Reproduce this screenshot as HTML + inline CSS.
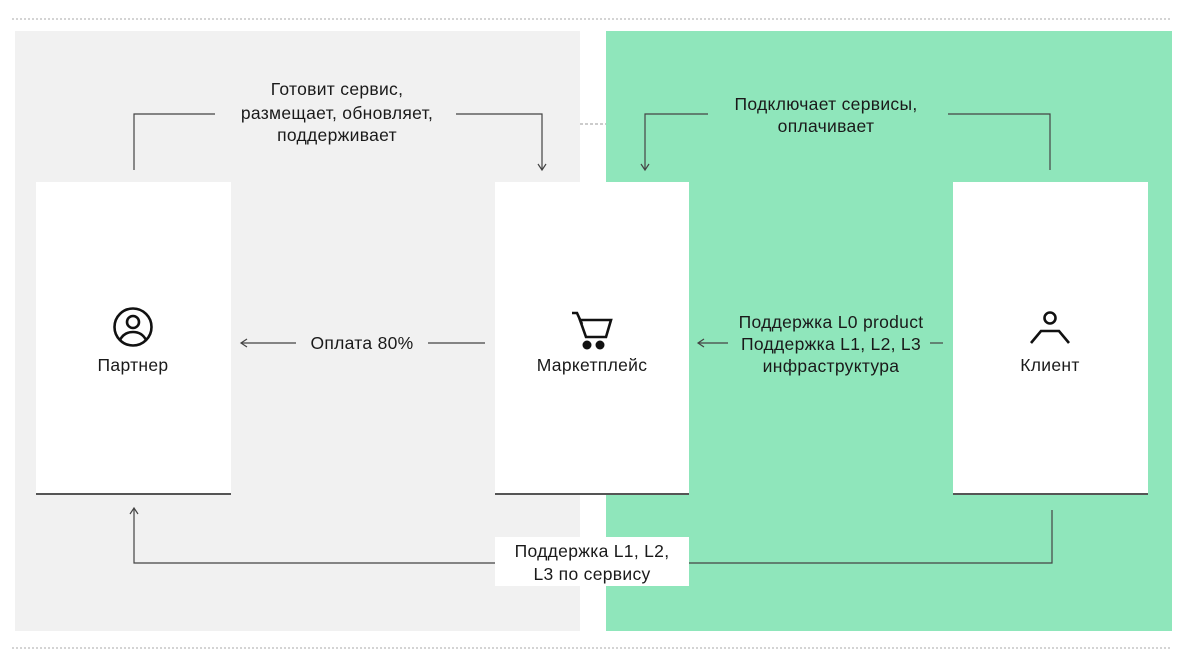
<!DOCTYPE html>
<html><head><meta charset="utf-8"><style>
html,body{margin:0;padding:0;background:#fff;width:1184px;height:666px;overflow:hidden}
svg text{font-family:"Liberation Sans","DejaVu Sans",sans-serif;font-size:17.5px;fill:#1a1a1a;letter-spacing:0.3px}
</style></head><body>
<svg width="1184" height="666" xmlns="http://www.w3.org/2000/svg">
<line x1="12" y1="19" x2="1170" y2="19" stroke="#aaa" stroke-dasharray="2,2"/>
<line x1="12" y1="648" x2="1170" y2="648" stroke="#aaa" stroke-dasharray="2,2"/>
<rect x="15" y="31" width="565" height="600" fill="#f1f1f1"/>
<rect x="606" y="31" width="566" height="600" fill="#8fe6bb"/>
<line x1="580" y1="124" x2="606" y2="124" stroke="#999" stroke-dasharray="3,2"/>
<g fill="#fff">
<rect x="36" y="182" width="195" height="312"/>
<rect x="495" y="182" width="194" height="312"/>
<rect x="953" y="182" width="195" height="312"/>
</g>
<g stroke="#555" stroke-width="2">
<line x1="36" y1="494" x2="231" y2="494"/>
<line x1="495" y1="494" x2="689" y2="494"/>
<line x1="953" y1="494" x2="1148" y2="494"/>
</g>
<g fill="none" stroke="#444" stroke-width="1.2">
<polyline points="134,170 134,114 215,114"/>
<polyline points="456,114 542,114 542,170"/>
<polyline points="538,164 542,170 546,164"/>
<polyline points="708,114 645,114 645,170"/>
<polyline points="641,164 645,170 649,164"/>
<polyline points="948,114 1050,114 1050,170"/>
<line x1="241" y1="343" x2="296" y2="343"/>
<polyline points="247,339 241,343 247,347"/>
<line x1="428" y1="343" x2="485" y2="343"/>
<line x1="698" y1="343" x2="728" y2="343"/>
<polyline points="704,339 698,343 704,347"/>
<line x1="930" y1="343" x2="943" y2="343"/>
<polyline points="1052,510 1052,563 134,563 134,508"/>
<polyline points="130,514 134,508 138,514"/>
</g>
<rect x="495" y="537" width="194" height="49" fill="#fff"/>
<g text-anchor="middle">
<text x="337" y="95">Готовит сервис,</text>
<text x="337" y="119">размещает, обновляет,</text>
<text x="337" y="141">поддерживает</text>
<text x="826" y="110">Подключает сервисы,</text>
<text x="826" y="132">оплачивает</text>
<text x="362" y="349">Оплата 80%</text>
<text x="831" y="328">Поддержка L0 product</text>
<text x="831" y="350">Поддержка L1, L2, L3</text>
<text x="831" y="372">инфраструктура</text>
<text x="592" y="557">Поддержка L1, L2,</text>
<text x="592" y="580">L3 по сервису</text>
<text x="133" y="371">Партнер</text>
<text x="592" y="371">Маркетплейс</text>
<text x="1050" y="371">Клиент</text>
</g>
<g fill="none" stroke="#111" stroke-width="2.6">
<circle cx="133" cy="327" r="18.5"/>
<circle cx="133" cy="322" r="6"/>
<path d="M120,340 Q124,332 133,332 Q142,332 146,340"/>
<polyline points="572,313 577,313 582,324"/>
<polygon points="580,320 611,320 606,337 586,337"/>
<circle cx="1050" cy="318" r="5.5"/>
<polyline points="1031,343 1041,331 1059,331 1069,343"/>
</g>
<circle cx="587" cy="345" r="4.5" fill="#111"/>
<circle cx="600" cy="345" r="4.5" fill="#111"/>
</svg>
</body></html>
